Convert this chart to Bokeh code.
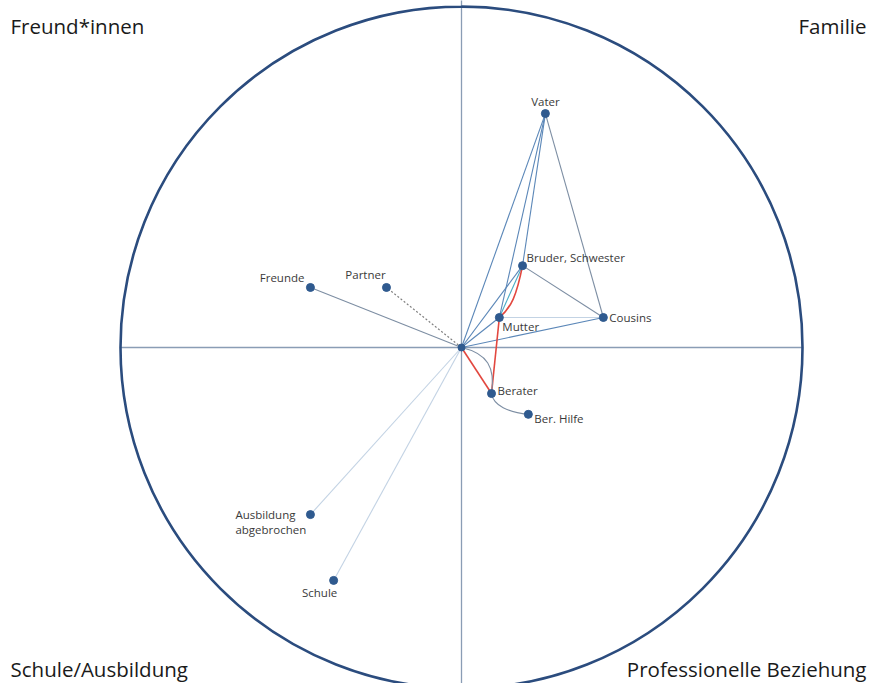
from bokeh.plotting import figure
from bokeh.models import Range1d
from bokeh.core.properties import value
from bokeh.embed import file_html
from bokeh.resources import INLINE

# ---------------- data ----------------
names = ["Vater", "Bruder, Schwester", "Mutter", "Cousins", "Berater", "Ber. Hilfe",
         "Freunde", "Partner", "Ausbildung\nabgebrochen", "Schule"]
node_x = [24.6, 17.9, 11.1, 41.6, 8.8, 19.6, -44.3, -22.0, -44.3, -37.5]
node_y = [68.6, 24.0, 8.8, 8.8, -13.5, -19.6, 17.6, 17.6, -49.0, -68.3]

quadrants = ["Freund*innen", "Familie", "Schule/Ausbildung", "Professionelle Beziehung"]

edges = [
    ("Ego", "Vater", "family"),
    ("Ego", "Bruder, Schwester", "family"),
    ("Ego", "Mutter", "family"),
    ("Ego", "Cousins", "family"),
    ("Vater", "Mutter", "family"),
    ("Vater", "Bruder, Schwester", "family"),
    ("Vater", "Cousins", "gray"),
    ("Bruder, Schwester", "Mutter", "teal"),
    ("Bruder, Schwester", "Cousins", "gray"),
    ("Mutter", "Cousins", "light"),
    ("Ego", "Freunde", "gray"),
    ("Ego", "Partner", "dashed"),
    ("Ego", "Ausbildung\nabgebrochen", "light"),
    ("Ego", "Schule", "light"),
    ("Ego", "Berater", "red"),
    ("Berater", "Mutter", "red"),
]
curved_edges = [
    ("Mutter", "Bruder, Schwester", "red"),
    ("Ego", "Berater", "gray"),
    ("Berater", "Ber. Hilfe", "gray"),
]

# ---------------- layout / style ----------------
S = 3.41  # px per unit (circle radius = 100 units)
R = 100.0
pos = {"Ego": (0.0, 0.0)}
for n, x, y in zip(names, node_x, node_y):
    pos[n] = (x, y)

styles = {
    "family": dict(line_color="#5b87b8", line_width=1.1, line_dash="solid"),
    "gray": dict(line_color="#7d8ea3", line_width=1.1, line_dash="solid"),
    "teal": dict(line_color="#4bacc6", line_width=1.1, line_dash="solid"),
    "light": dict(line_color="#c3d3e4", line_width=1.1, line_dash="solid"),
    "dashed": dict(line_color="#7f7f7f", line_width=1.1, line_dash="2 2"),
    "red": dict(line_color="#e2473f", line_width=1.6, line_dash="solid"),
}
# bezier control offsets (px, y up) relative to start / end node
curve_ctrl = {
    ("Mutter", "Bruder, Schwester"): ((12, 10), (-6, -30)),
    ("Ego", "Berater"): ((26, -6), (4, 26)),
    ("Berater", "Ber. Hilfe"): ((2, -12), (-20, 2)),
}
# label offsets (px, y down), align, baseline
label_off = {
    "Vater": (0, -12, "center", "middle"),
    "Bruder, Schwester": (4, -8, "left", "middle"),
    "Mutter": (3, 9, "left", "middle"),
    "Cousins": (6, 0, "left", "middle"),
    "Berater": (6, -3, "left", "middle"),
    "Ber. Hilfe": (6, 4, "left", "middle"),
    "Freunde": (-6, -10, "right", "middle"),
    "Partner": (-21, -13, "center", "middle"),
    "Ausbildung\nabgebrochen": (-75, -8, "left", "top"),
    "Schule": (-14, 12, "center", "middle"),
}

W, H = 870, 683
cx_page, cy_page = 461, 347  # ego position in picture


def px_x(px):
    return (px - cx_page) / S


def px_y(py):
    return (cy_page - py) / S


p = figure(width=W, height=H, output_backend="svg", toolbar_location=None,
           x_range=Range1d(px_x(0), px_x(W)), y_range=Range1d(px_y(H), px_y(0)),
           min_border=0)
p.axis.visible = False
p.grid.visible = False
p.outline_line_color = None
p.background_fill_color = "white"

# axes cross
p.segment(x0=[-R, 0], y0=[0, -120], x1=[R, 0], y1=[0, 120], line_color="#8a9db5", line_width=1.3)

# circle
p.circle(x=[0], y=[0], radius=R, fill_color=None, line_color="#2b4c7e", line_width=2.6)

# straight edges
for a, b, st in edges:
    (x0, y0), (x1, y1) = pos[a], pos[b]
    p.line([x0, x1], [y0, y1], **styles[st])

# curved edges
for a, b, st in curved_edges:
    (x0, y0), (x1, y1) = pos[a], pos[b]
    (c0x, c0y), (c1x, c1y) = curve_ctrl[(a, b)]
    p.bezier(x0=[x0], y0=[y0], x1=[x1], y1=[y1],
             cx0=[x0 + c0x / S], cy0=[y0 + c0y / S],
             cx1=[x1 + c1x / S], cy1=[y1 + c1y / S], **styles[st])

# nodes
p.scatter(x=node_x, y=node_y, size=8, color="#2f5a8f")
p.scatter(x=[0], y=[0], size=7, color="#2f5a8f")

# node labels
for n in names:
    dx, dy, al, bl = label_off[n]
    x, y = pos[n]
    p.text(x=[x + dx / S], y=[y - dy / S], text=[n], text_font=value("Open Sans"),
           text_font_size="11.5px", text_color="#3a3a3a", text_align=al, text_baseline=bl,
           text_line_height=1.0)

# quadrant labels
q_pos = [(10, 25, "left"), (866, 25, "right"), (10, 668, "left"), (866, 668, "right")]
for t, (qx, qy, al) in zip(quadrants, q_pos):
    p.text(x=[px_x(qx)], y=[px_y(qy)], text=[t], text_font=value("Open Sans"),
           text_font_size="20.5px", text_color="#1a1a1a", text_align=al, text_baseline="middle")

open("out.html", "w").write(file_html(p, INLINE))
